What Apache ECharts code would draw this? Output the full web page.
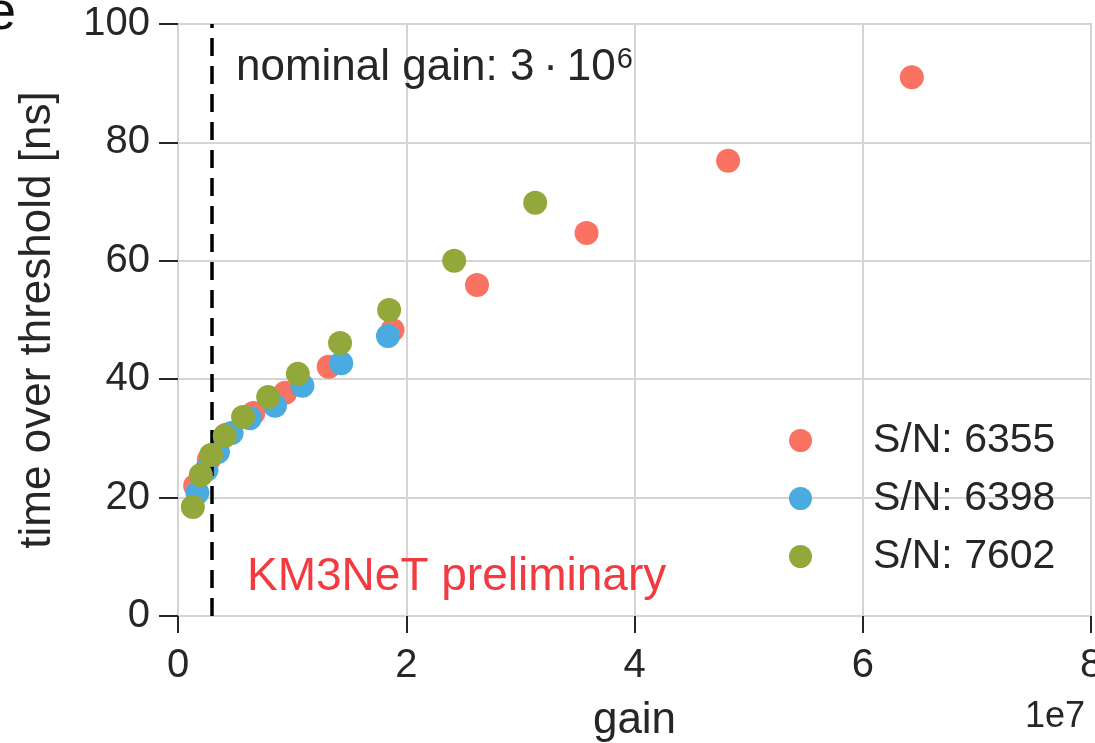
<!DOCTYPE html>
<html>
<head>
<meta charset="utf-8">
<script src="https://cdn.jsdelivr.net/npm/echarts@6/dist/echarts.min.js"></script>
<style>
  html, body { margin: 0; padding: 0; background: #fff; overflow: hidden; }
  #chart { width: 1095px; height: 743px; }
</style>
</head>
<body>
<div id="chart"></div>
<script>
// gain in units of 1e7, time over threshold in ns
const sn6355Gain = [0.15, 0.27, 0.42, 0.66, 0.94, 1.32, 1.88, 2.62, 3.58, 4.82, 6.43];
const sn6355Tot  = [22.0, 26.4, 30.6, 34.3, 37.7, 42.1, 48.3, 55.9, 64.7, 76.9, 91.0];
const sn6398Gain = [0.17, 0.25, 0.35, 0.47, 0.63, 0.85, 1.09, 1.43, 1.84];
const sn6398Tot  = [20.8, 24.7, 27.7, 30.9, 33.4, 35.5, 38.9, 42.7, 47.3];
const sn7602Gain = [0.13, 0.20, 0.29, 0.41, 0.57, 0.79, 1.05, 1.42, 1.85, 2.42, 3.13];
const sn7602Tot  = [18.4, 23.8, 27.2, 30.4, 33.6, 37.0, 40.9, 46.1, 51.7, 60.0, 69.8];
const nominalGain = 0.3;
const seriesNames = ['S/N: 6355', 'S/N: 6398', 'S/N: 7602'];

function pairs(xs, ys) {
    return xs.map((x, i) => [x, ys[i]]);
}

let chart = echarts.init(document.getElementById('chart'));
const font = 'Liberation Sans, Arial, sans-serif';
const ink = '#262626';
let option = {
    animation: false,
    color: ['#fa7362', '#4aabe0', '#93a83b'],
    textStyle: { fontFamily: font },
    grid: {
        left: 178, right: 4, top: 24, bottom: 127,
        outerBoundsMode: 'none',
        containLabel: false,
        show: true, borderColor: '#d0d0d0', borderWidth: 2
    },
    legend: {
        orient: 'vertical',
        left: 784, top: 415,
        icon: 'circle',
        itemWidth: 23, itemHeight: 23,
        itemGap: 17,
        itemStyle: { opacity: 1 },
        data: seriesNames,
        textStyle: { fontSize: 41, color: ink, padding: [0, 0, 0, 56], fontFamily: font }
    },
    xAxis: {
        type: 'value',
        min: 0, max: 8, interval: 2,
        name: 'gain',
        nameLocation: 'middle',
        nameGap: 83,
        nameTextStyle: { fontSize: 44, color: ink, fontFamily: font },
        axisLine: { show: false },
        axisTick: { show: true, length: 17, lineStyle: { color: ink, width: 2 } },
        axisLabel: { fontSize: 40, color: ink, margin: 30, fontFamily: font },
        splitLine: { show: true, lineStyle: { color: '#d4d4d4', width: 2 } }
    },
    yAxis: {
        type: 'value',
        min: 0, max: 100, interval: 20,
        name: 'time over threshold [ns]',
        nameLocation: 'middle',
        nameGap: 118,
        nameTextStyle: { fontSize: 44, color: ink, fontFamily: font },
        axisLine: { show: false },
        axisTick: { show: true, length: 19, lineStyle: { color: ink, width: 2 } },
        axisLabel: { fontSize: 40, color: ink, margin: 28, fontFamily: font },
        splitLine: { show: true, lineStyle: { color: '#d4d4d4', width: 2 } }
    },
    graphic: [
        { type: 'text', z: 100, left: -14, top: -13, style: { text: 'e', fontSize: 54, fill: '#111', fontFamily: font } },
        {
            type: 'text', z: 100, left: 236, top: 45,
            style: {
                text: '{a|nominal gain: 3\u2009\u00b7\u200910}{s|6}',
                fontFamily: font,
                rich: {
                    a: { fontSize: 44, fill: ink, fontFamily: font },
                    s: { fontSize: 29, fill: ink, fontFamily: font, verticalAlign: 'top', padding: [0, 0, 16, 1] }
                }
            }
        },
        { type: 'text', z: 100, left: 247, top: 554, style: { text: 'KM3NeT preliminary', fontSize: 46, fill: '#f23a41', fontFamily: font } },
        { type: 'text', z: 100, left: 1025, top: 699, style: { text: '1e7', fontSize: 36, fill: ink, fontFamily: font } }
    ],
    series: [
        {
            name: seriesNames[0], type: 'scatter', symbolSize: 24, z: 3,
            itemStyle: { opacity: 1 },
            data: pairs(sn6355Gain, sn6355Tot),
            markLine: {
                silent: true, symbol: 'none', label: { show: false },
                lineStyle: { color: '#000', type: [18, 10], width: 3.5 },
                data: [{ xAxis: nominalGain }]
            }
        },
        { name: seriesNames[1], type: 'scatter', symbolSize: 24, z: 4, itemStyle: { opacity: 1 }, data: pairs(sn6398Gain, sn6398Tot) },
        { name: seriesNames[2], type: 'scatter', symbolSize: 24, z: 5, itemStyle: { opacity: 1 }, data: pairs(sn7602Gain, sn7602Tot) }
    ]
};
chart.setOption(option);
</script>
</body>
</html>
